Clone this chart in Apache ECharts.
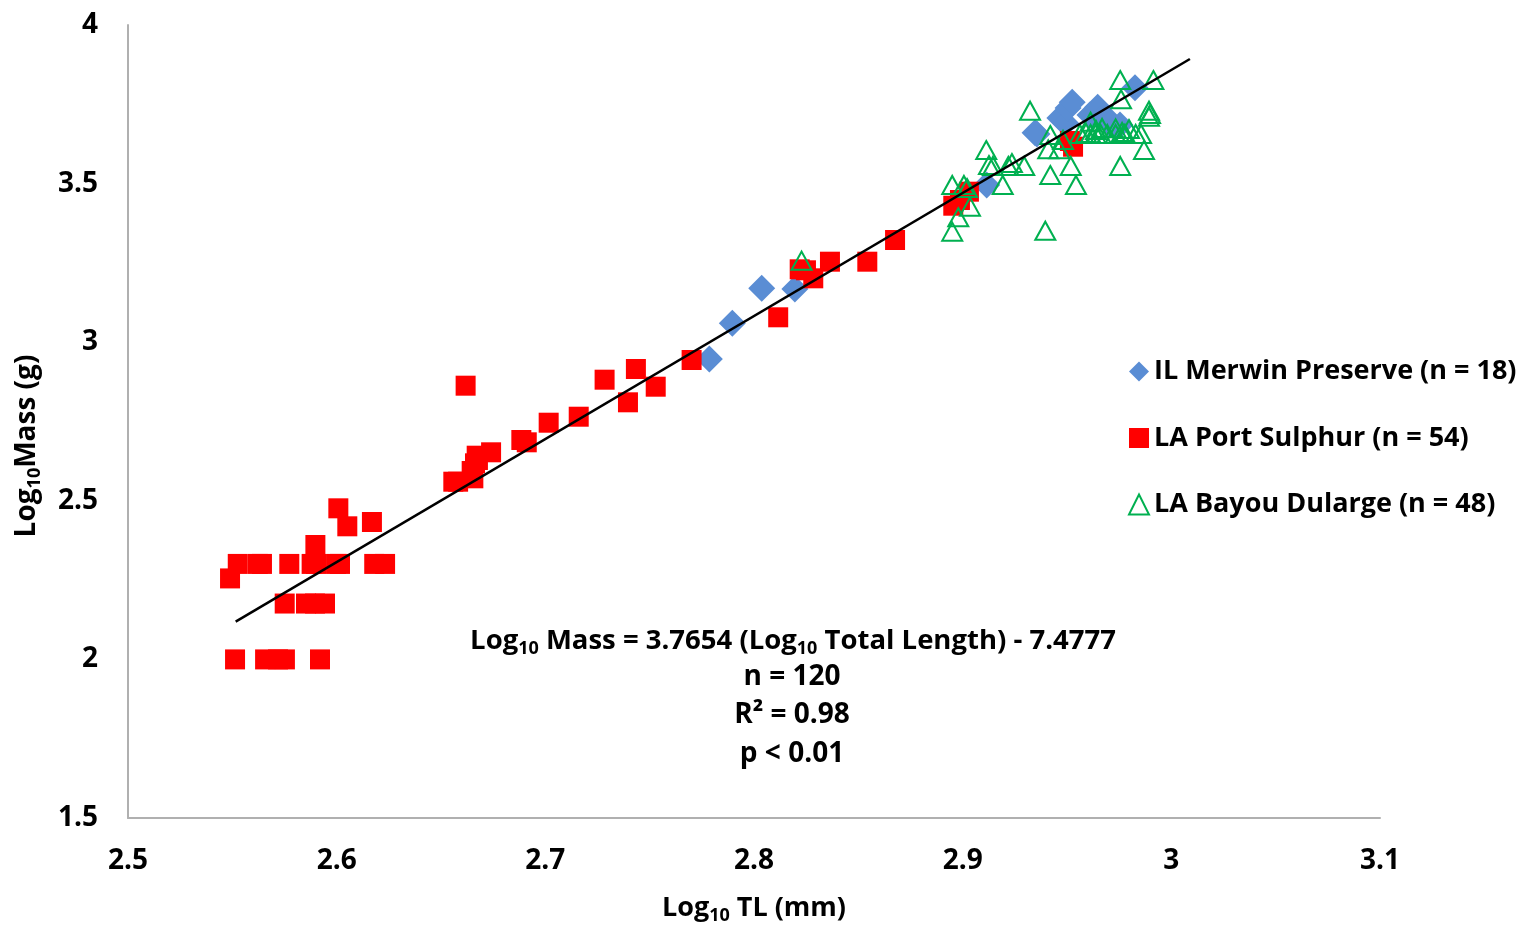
<!DOCTYPE html>
<html>
<head>
<meta charset="utf-8">
<script src="https://cdn.jsdelivr.net/npm/echarts@6/dist/echarts.min.js"></script>
<style>
  html, body { margin: 0; padding: 0; background: #fff; }
  #chart { width: 1538px; height: 937px; }
</style>
</head>
<body>
<div id="chart"></div>
<script>
// Log10 total length (mm) vs log10 mass (g), one array of [x, y] pairs per site
const merwinPoints = [
  [2.7786, 2.9470], [2.7896, 3.0596], [2.8037, 3.1699], [2.8196, 3.1677],
  [2.9115, 3.4956], [2.9347, 3.6605], [2.9356, 3.6564], [2.9466, 3.7068],
  [2.9494, 3.6901], [2.9505, 3.7383], [2.9525, 3.7563], [2.9610, 3.7163],
  [2.9647, 3.7405], [2.9677, 3.7163], [2.9706, 3.6879], [2.9730, 3.6784],
  [2.9754, 3.6847], [2.9826, 3.8023]
];

const portSulphurPoints = [
  [2.6008, 2.4763], [2.6051, 2.4196], [2.6169, 2.4332], [2.5898, 2.3607],
  [2.5526, 2.3010], [2.5622, 2.3010], [2.5642, 2.3010], [2.5773, 2.3010],
  [2.5880, 2.3010], [2.5901, 2.3010], [2.5997, 2.3010], [2.6016, 2.3010],
  [2.6180, 2.3010], [2.6232, 2.3010], [2.5489, 2.2553], [2.5751, 2.1761],
  [2.5853, 2.1761], [2.5896, 2.1761], [2.5944, 2.1761], [2.5513, 2.0000],
  [2.5657, 2.0000], [2.5719, 2.0000], [2.5752, 2.0000], [2.5920, 2.0000],
  [2.6618, 2.8629], [2.7284, 2.8818], [2.7434, 2.9155], [2.7529, 2.8597],
  [2.7396, 2.8105], [2.7701, 2.9439], [2.7160, 2.7651], [2.7016, 2.7462],
  [2.6885, 2.6917], [2.6911, 2.6844], [2.6740, 2.6529], [2.6671, 2.6422],
  [2.6677, 2.6287], [2.6663, 2.6182], [2.6647, 2.5939], [2.6559, 2.5602],
  [2.6582, 2.5602], [2.6655, 2.5709], [2.8116, 3.0785], [2.8219, 3.2298],
  [2.8249, 3.2267], [2.8284, 3.2014], [2.8364, 3.2538], [2.8543, 3.2538],
  [2.8676, 3.3222], [2.8955, 3.4303], [2.8987, 3.4483], [2.9030, 3.4745],
  [2.9514, 3.6343], [2.9529, 3.6163]
];

const bayouDularguePoints = [
  [2.8228, 3.2570], [2.9755, 3.8266], [2.9914, 3.8266], [2.9323, 3.7298],
  [2.9759, 3.7658], [2.9893, 3.7298], [2.9893, 3.7109], [2.9613, 3.6951],
  [2.9613, 3.6564], [2.9637, 3.6564], [2.9661, 3.6564], [2.9693, 3.6564],
  [2.9733, 3.6564], [2.9773, 3.6564], [2.9829, 3.6564], [2.9733, 3.6743],
  [2.9420, 3.6532], [2.9410, 3.6081], [2.9463, 3.6081], [2.9113, 3.6059],
  [2.9126, 3.5586], [2.9219, 3.5555], [2.9295, 3.5555], [2.9518, 3.5555],
  [2.9755, 3.5555], [2.9869, 3.6059], [2.9420, 3.5271], [2.9543, 3.4956],
  [2.9192, 3.4956], [2.8950, 3.4956], [2.9006, 3.4956], [2.9035, 3.4272],
  [2.8979, 3.3938], [2.8950, 3.3484], [2.9396, 3.3515], [2.9145, 3.5555],
  [2.9236, 3.5649], [2.9481, 3.6375], [2.9591, 3.6595], [2.9668, 3.6753],
  [2.9797, 3.6721], [2.9855, 3.6564], [2.9778, 3.6564], [2.9562, 3.6564],
  [2.9021, 3.4861], [2.9898, 3.7194], [2.9764, 3.6627], [2.9639, 3.6690]
];

// End points of the fitted regression line
const trendLine = [[2.5516, 2.1189], [3.0089, 3.8928]];

const seriesNames = [
  'IL Merwin Preserve (n = 18)',
  'LA Port Sulphur (n = 54)',
  'LA Bayou Dularge (n = 48)'
];

const statLines = ['n = 120', 'R² = 0.98', 'p < 0.01'];

const FONT = '"Open Sans", Lato, sans-serif';
const chart = echarts.init(document.getElementById('chart'), null, { renderer: 'canvas' });

function subRich(size) {
  return {
    b: { fontFamily: FONT, fontWeight: 'bold', fontSize: size, color: '#000' },
    s: { fontFamily: FONT, fontWeight: 'bold', fontSize: Math.round(size * 0.66), color: '#000',
         padding: [Math.round(size * 0.55), 0, 0, 0] }
  };
}

chart.setOption({
  animation: false,
  backgroundColor: '#fff',
  grid: { left: 128, right: 158, top: 25, bottom: 119, containLabel: false },
  xAxis: {
    type: 'value', min: 2.5, max: 3.1, interval: 0.1,
    axisLine: { show: true, lineStyle: { color: '#b0b0b0', width: 2 } },
    axisTick: { show: false },
    splitLine: { show: false },
    axisLabel: { margin: 29, fontFamily: FONT, fontWeight: 'bold', fontSize: 28, color: '#000' }
  },
  yAxis: {
    type: 'value', min: 1.5, max: 4, interval: 0.5,
    axisLine: { show: true, lineStyle: { color: '#b0b0b0', width: 2 } },
    axisTick: { show: false },
    splitLine: { show: false },
    axisLabel: { margin: 30, fontFamily: FONT, fontWeight: 'bold', fontSize: 28, color: '#000' }
  },
  legend: {
    orient: 'vertical', left: 1123, top: 353, itemGap: 39.5,
    itemWidth: 20, itemHeight: 20,
    textStyle: { fontFamily: FONT, fontWeight: 'bold', fontSize: 27, color: '#000' },
    data: seriesNames
  },
  series: [
    {
      name: seriesNames[0], type: 'scatter', data: merwinPoints,
      symbol: 'diamond', symbolSize: 27, z: 2,
      itemStyle: { color: '#5a8dd4', opacity: 1 }
    },
    {
      name: seriesNames[1], type: 'scatter', data: portSulphurPoints,
      symbol: 'rect', symbolSize: 20, z: 3,
      itemStyle: { color: '#ff0000', opacity: 1 }
    },
    {
      name: seriesNames[2], type: 'scatter', data: bayouDularguePoints,
      symbol: 'triangle', symbolSize: [20, 18], z: 4,
      itemStyle: { color: 'rgba(255,255,255,0)', borderColor: '#00b050', borderWidth: 2, opacity: 1 }
    },
    {
      name: 'fit', type: 'line', data: trendLine, z: 5,
      symbol: 'none', silent: true,
      lineStyle: { color: '#000', width: 2.5 }
    }
  ],
  graphic: [
    {
      type: 'text', x: 27, y: 446, rotation: Math.PI / 2,
      style: {
        text: '{b|Log}{s|10}{b|Mass (g)}', rich: subRich(28),
        align: 'center', verticalAlign: 'middle'
      }
    },
    {
      type: 'text', x: 754, y: 908,
      style: {
        text: '{b|Log}{s|10}{b| TL (mm)}', rich: subRich(27),
        align: 'center', verticalAlign: 'middle'
      }
    },
    {
      type: 'text', x: 793, y: 641,
      style: {
        text: '{b|Log}{s|10}{b| Mass = 3.7654 (Log}{s|10}{b| Total Length) - 7.4777}', rich: subRich(27.5),
        align: 'center', verticalAlign: 'middle'
      }
    },
    ...statLines.map((t, i) => ({
      type: 'text', x: 792, y: 677 + i * 38.5,
      style: {
        text: t, fontFamily: FONT, fontWeight: 'bold', fontSize: 28, fill: '#000',
        align: 'center', verticalAlign: 'middle'
      }
    }))
  ]
});
</script>
</body>
</html>
